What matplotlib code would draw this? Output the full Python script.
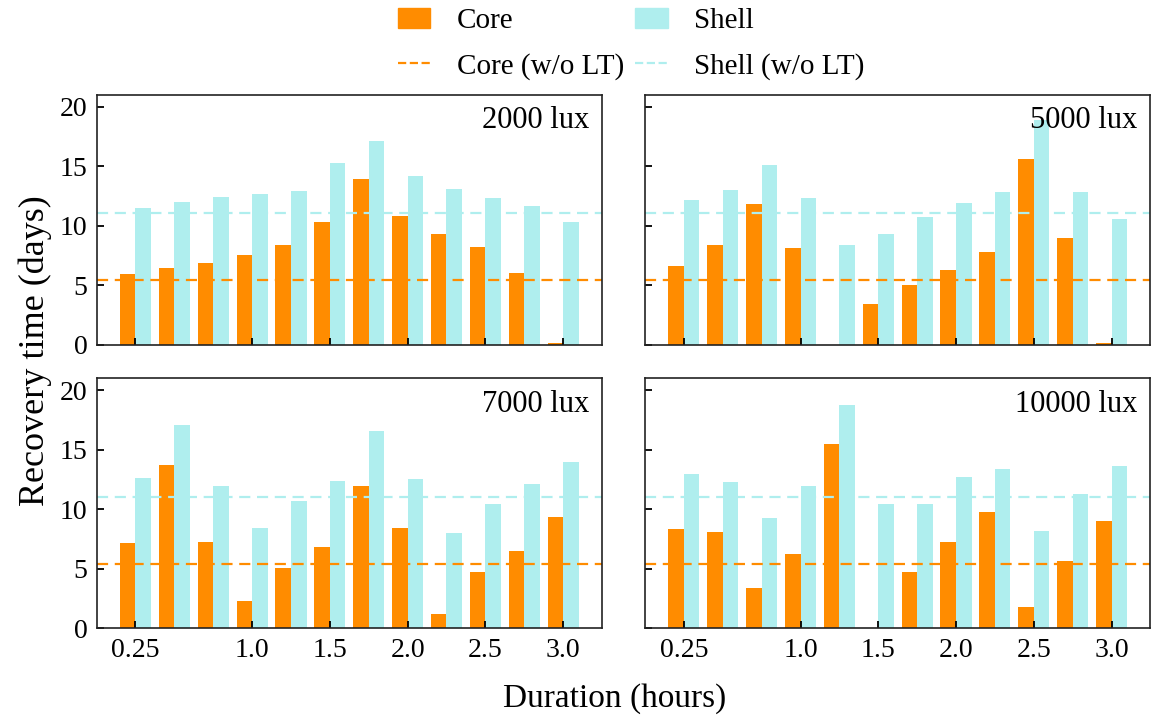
import numpy as np
import matplotlib.pyplot as plt
from matplotlib.patches import Patch
from matplotlib.lines import Line2D

plt.rcParams['font.family'] = ['Liberation Serif', 'DejaVu Serif']

# durations in hours, one bar group each
durations = [0.25, 0.5, 0.75, 1.0, 1.25, 1.5, 1.75, 2.0, 2.25, 2.5, 2.75, 3.0]
tick_hours = [0.25, 1.0, 1.5, 2.0, 2.5, 3.0]
tick_labels = ['0.25', '1.0', '1.5', '2.0', '2.5', '3.0']
lux_levels = ['2000 lux', '5000 lux', '7000 lux', '10000 lux']

core_2000 = [5.9, 6.4, 6.9, 7.5, 8.4, 10.3, 13.95, 10.8, 9.3, 8.25, 6.0, 0.1]
shell_2000 = [11.5, 12.0, 12.45, 12.7, 12.95, 15.3, 17.15, 14.2, 13.05, 12.35, 11.7, 10.35]
core_5000 = [6.6, 8.35, 11.8, 8.1, 0.0, 3.4, 5.05, 6.3, 7.75, 15.6, 9.0, 0.1]
shell_5000 = [12.2, 13.0, 15.15, 12.3, 8.35, 9.3, 10.7, 11.95, 12.8, 18.9, 12.8, 10.6]
core_7000 = [7.15, 13.75, 7.25, 2.25, 5.05, 6.8, 11.95, 8.45, 1.15, 4.7, 6.5, 9.35]
shell_7000 = [12.65, 17.05, 11.95, 8.45, 10.7, 12.4, 16.6, 12.5, 8.0, 10.4, 12.15, 14.0]
core_10000 = [8.35, 8.1, 3.35, 6.25, 15.5, 0.0, 4.7, 7.25, 9.8, 1.75, 5.65, 9.0]
shell_10000 = [13.0, 12.3, 9.3, 11.95, 18.75, 10.45, 10.4, 12.75, 13.4, 8.2, 11.3, 13.6]

core_no_lt = 5.4
shell_no_lt = 11.05

core_series = [core_2000, core_5000, core_7000, core_10000]
shell_series = [shell_2000, shell_5000, shell_7000, shell_10000]

CORE_COLOR = '#FF8C00'
SHELL_COLOR = '#AFEEEE'
width = 0.4

fig, axes = plt.subplots(2, 2, figsize=(11.56, 7.18), dpi=100, sharey=True)
fig.subplots_adjust(left=0.0839, right=0.9948, top=0.8677, bottom=0.1253,
                    wspace=0.087, hspace=0.136)

x = np.arange(len(durations))
tick_pos = [durations.index(h) for h in tick_hours]

for i, ax in enumerate(axes.flat):
    ax.bar(x - width / 2, core_series[i], width, color=CORE_COLOR)
    ax.bar(x + width / 2, shell_series[i], width, color=SHELL_COLOR)
    ax.axhline(core_no_lt, color=CORE_COLOR, ls='--', lw=1.6, dashes=(5, 3))
    ax.axhline(shell_no_lt, color=SHELL_COLOR, ls='--', lw=1.6, dashes=(5, 3))
    ax.set_ylim(0, 21)
    ax.set_yticks([0, 5, 10, 15, 20])
    ax.set_xticks(tick_pos)
    ax.set_xticklabels(tick_labels)
    ax.tick_params(direction='in', length=5, width=1.3, labelsize=20, pad=7)
    for s in ax.spines.values():
        s.set_linewidth(1.2)
        s.set_color('#222222')
    ax.text(0.975, 0.955, lux_levels[i], transform=ax.transAxes,
            ha='right', va='top', fontsize=22)
    if i < 2:
        ax.tick_params(labelbottom=False)

fig.supylabel('Recovery time (days)', fontsize=26, x=0.016, y=0.512)
fig.supxlabel('Duration (hours)', fontsize=24, x=0.532, y=0.005)

handles = [Patch(color=CORE_COLOR), Line2D([], [], color=CORE_COLOR, ls='--', lw=1.6),
           Patch(color=SHELL_COLOR), Line2D([], [], color=SHELL_COLOR, ls='--', lw=1.6)]
labels = ['Core', 'Core (w/o LT)', 'Shell', 'Shell (w/o LT)']
fig.legend(handles, labels, ncol=2, loc='upper center', bbox_to_anchor=(0.546, 1.026),
           frameon=False, fontsize=21, handlelength=1.1, columnspacing=0.4,
           handletextpad=0.9, labelspacing=0.65)

fig.savefig('out.png', dpi=100)
